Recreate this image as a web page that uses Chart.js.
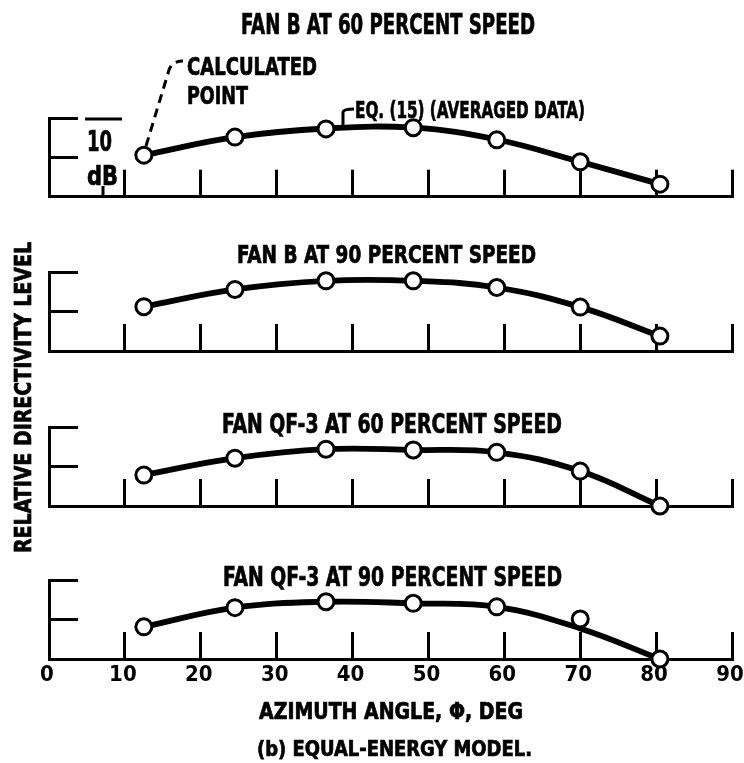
<!DOCTYPE html>
<html><head><meta charset="utf-8">
<script src="https://cdn.jsdelivr.net/npm/chart.js"></script>
<style>
html,body{margin:0;padding:0;background:#fff;}
#wrap{position:relative;width:744px;height:763px;overflow:hidden;background:#fff;}
#wrap canvas{position:absolute;left:0;top:0;}
#wrap svg{position:absolute;left:0;top:0;}
.t{position:absolute;left:0;top:0;white-space:nowrap;font-weight:bold;color:#000;
   font-family:'Liberation Sans Narrow','DejaVu Sans Condensed','Liberation Sans',sans-serif;
   -webkit-text-stroke:0.7px #000;
   transform-origin:0 0;}
</style></head>
<body><div id="wrap"></div>
<script>
// ---------- data ----------
const angles = [12.5, 24.5, 36.5, 48, 59, 70, 80.5];           // azimuth angle, deg
const xTicks = [0, 10, 20, 30, 40, 50, 60, 70, 80, 90];
const yTicks = [10, 20];                                        // 10 dB scale bracket

const panelTitles = [
  'FAN B AT 60 PERCENT SPEED',
  'FAN B AT 90 PERCENT SPEED',
  'FAN QF-3 AT 60 PERCENT SPEED',
  'FAN QF-3 AT 90 PERCENT SPEED'
];
// calculated points (circles), relative level in dB above panel baseline
const fanB60Points   = [10.6, 15.2, 17.3, 17.6, 14.5, 8.9, 3.2];
const fanB90Points   = [11.3, 15.7, 17.9, 17.9, 16.2, 11.2, 3.8];
const qf3_60Points   = [7.9, 12.2, 14.5, 14.3, 13.7, 8.9, 0];
const qf3_90Points   = [8.2, 13.1, 14.6, 14.2, 13.3, 10.2, 0];
// Eq. (15) (averaged data) curve, read at the same angles
const fanB60Curve    = [10.6, 15.2, 17.4, 17.6, 14.6, 8.9, 3.2];
const fanB90Curve    = [11.3, 15.7, 17.9, 17.9, 16.2, 11.2, 3.8];
const qf3_60Curve    = [7.9, 12.2, 14.5, 14.3, 13.7, 8.9, 0];
const qf3_90Curve    = [8.2, 13.1, 14.6, 14.2, 13.3, 7.8, 0];

const xAxisTitle = 'AZIMUTH ANGLE, \u03A6, DEG';
const caption = '(b) EQUAL-ENERGY MODEL.';
const yAxisTitle = 'RELATIVE DIRECTIVITY LEVEL';

// ---------- layout ----------
const W = 744, H = 763;
const wrap = document.getElementById('wrap');
const baselines = [196.7, 351, 506, 659];
const PX_PER_DB = 3.92;
const X_AXIS_H = 40;
const FONT = "'Liberation Sans Narrow','DejaVu Sans Condensed','Liberation Sans',sans-serif";

const pointSets = [fanB60Points, fanB90Points, qf3_60Points, qf3_90Points];
const curveSets = [fanB60Curve, fanB90Curve, qf3_60Curve, qf3_90Curve];

function makePanel(i) {
  const cv = document.createElement('canvas');
  cv.width = W; cv.height = H;
  wrap.appendChild(cv);
  const B = baselines[i];
  const showLabels = (i === 3);
  new Chart(cv, {
    type: 'line',
    data: {
      datasets: [
        { data: angles.map((a, k) => ({x: a, y: pointSets[i][k]})),
          showLine: false, pointRadius: 8, pointBorderWidth: 3,
          pointBackgroundColor: '#fff', pointBorderColor: '#000', clip: false },
        { data: angles.map((a, k) => ({x: a, y: curveSets[i][k]})),
          borderColor: '#000', borderWidth: 5.8, pointRadius: 0, tension: 0.4,
          fill: false, clip: false, borderCapStyle: 'round' }
      ]
    },
    options: {
      responsive: false, animation: false, devicePixelRatio: 1,
      events: [],
      layout: { autoPadding: false,
                padding: { left: 49, right: 12, top: B - 20 * PX_PER_DB, bottom: H - B - X_AXIS_H } },
      plugins: { legend: { display: false }, tooltip: { enabled: false } },
      scales: {
        x: {
          type: 'linear', min: 0, max: 90, position: 'bottom',
          afterBuildTicks: s => { s.ticks = xTicks.map(v => ({value: v})); },
          afterFit: s => { s.height = X_AXIS_H; s.paddingLeft = 0; s.paddingRight = 0; },
          grid: { display: true, drawOnChartArea: false, drawTicks: true, tickLength: -27,
                  lineWidth: 3, color: '#000' },
          border: { display: true, width: 3, color: '#000' },
          ticks: { display: true, padding: 30, autoSkip: false, maxRotation: 0, labelOffset: -2,
                   color: showLabels ? '#000' : 'rgba(0,0,0,0)',
                   font: { family: FONT, size: 22, weight: 'bold' } }
        },
        y: {
          type: 'linear', min: 0, max: 20, position: 'left',
          afterBuildTicks: s => { s.ticks = yTicks.map(v => ({value: v})); },
          afterFit: s => { s.width = 0; s.paddingTop = 0; s.paddingBottom = 0; },
          grid: { display: true, drawOnChartArea: false, drawTicks: true, tickLength: -29,
                  lineWidth: 3, color: '#000' },
          border: { display: true, width: 3, color: '#000' },
          ticks: { display: false }
        }
      }
    }
  });
}
for (let i = 0; i < 4; i++) makePanel(i);

// ---------- annotation strokes ----------
const svgNS = 'http://www.w3.org/2000/svg';
const svg = document.createElementNS(svgNS, 'svg');
svg.setAttribute('width', W); svg.setAttribute('height', H);
function path(d, extra) {
  const p = document.createElementNS(svgNS, 'path');
  p.setAttribute('d', d); p.setAttribute('fill', 'none');
  p.setAttribute('stroke', '#000'); p.setAttribute('stroke-width', '3');
  if (extra) for (const k in extra) p.setAttribute(k, extra[k]);
  svg.appendChild(p);
}
path('M146,146 L169,70 Q172,61 183,61', {'stroke-dasharray': '9 6'});   // "calculated point" leader
path('M343,126 L343,112 Q344,109 354,109');                            // Eq. (15) leader
path('M85,119 L122,119');                                               // 10 dB overbar
path('M103,186 L103,197');
wrap.appendChild(svg);

// ---------- text ----------
const CAP = 0.72, CAPTOP = 0.125;
function addText(str, x0, x1, capTop, capBot) {
  const fs = (capBot - capTop) / CAP;
  const el = document.createElement('div');
  el.className = 't'; el.textContent = str;
  el.style.fontSize = fs + 'px'; el.style.lineHeight = fs + 'px';
  wrap.appendChild(el);
  const w = el.getBoundingClientRect().width;
  el.style.left = x0 + 'px';
  el.style.top = (capTop - CAPTOP * fs) + 'px';
  el.style.transform = 'scaleX(' + ((x1 - x0) / w) + ')';
}
function addVText(str, yTop, yBot, xLeft, xRight) {
  const fs = (xRight - xLeft) / CAP;
  const el = document.createElement('div');
  el.className = 't'; el.textContent = str;
  el.style.fontSize = fs + 'px'; el.style.lineHeight = fs + 'px';
  wrap.appendChild(el);
  const w = el.getBoundingClientRect().width;
  const k = (yBot - yTop) / w;
  const tx = xLeft - CAPTOP * fs, ty = yBot;
  el.style.transform = 'translate(' + tx + 'px,' + ty + 'px) rotate(-90deg) scaleX(' + k + ')';
}

addText(panelTitles[0], 241, 535, 14, 34);
addText(panelTitles[1], 237, 536, 245, 263);
addText(panelTitles[2], 222, 562, 414, 433);
addText(panelTitles[3], 223, 562, 567, 586);
addText('CALCULATED', 187, 317, 57, 75);
addText('POINT', 187, 248, 86, 104);
addText('EQ. (15) (AVERAGED DATA)', 355, 585, 102, 119);
addText('10', 87, 112, 131, 152);
addText('dB', 87, 118, 166, 185);
addText(xAxisTitle, 259, 523, 703, 719);
addText(caption, 257, 532, 742, 757);
addVText(yAxisTitle, 242, 553, 15, 31);
</script>
</body></html>
